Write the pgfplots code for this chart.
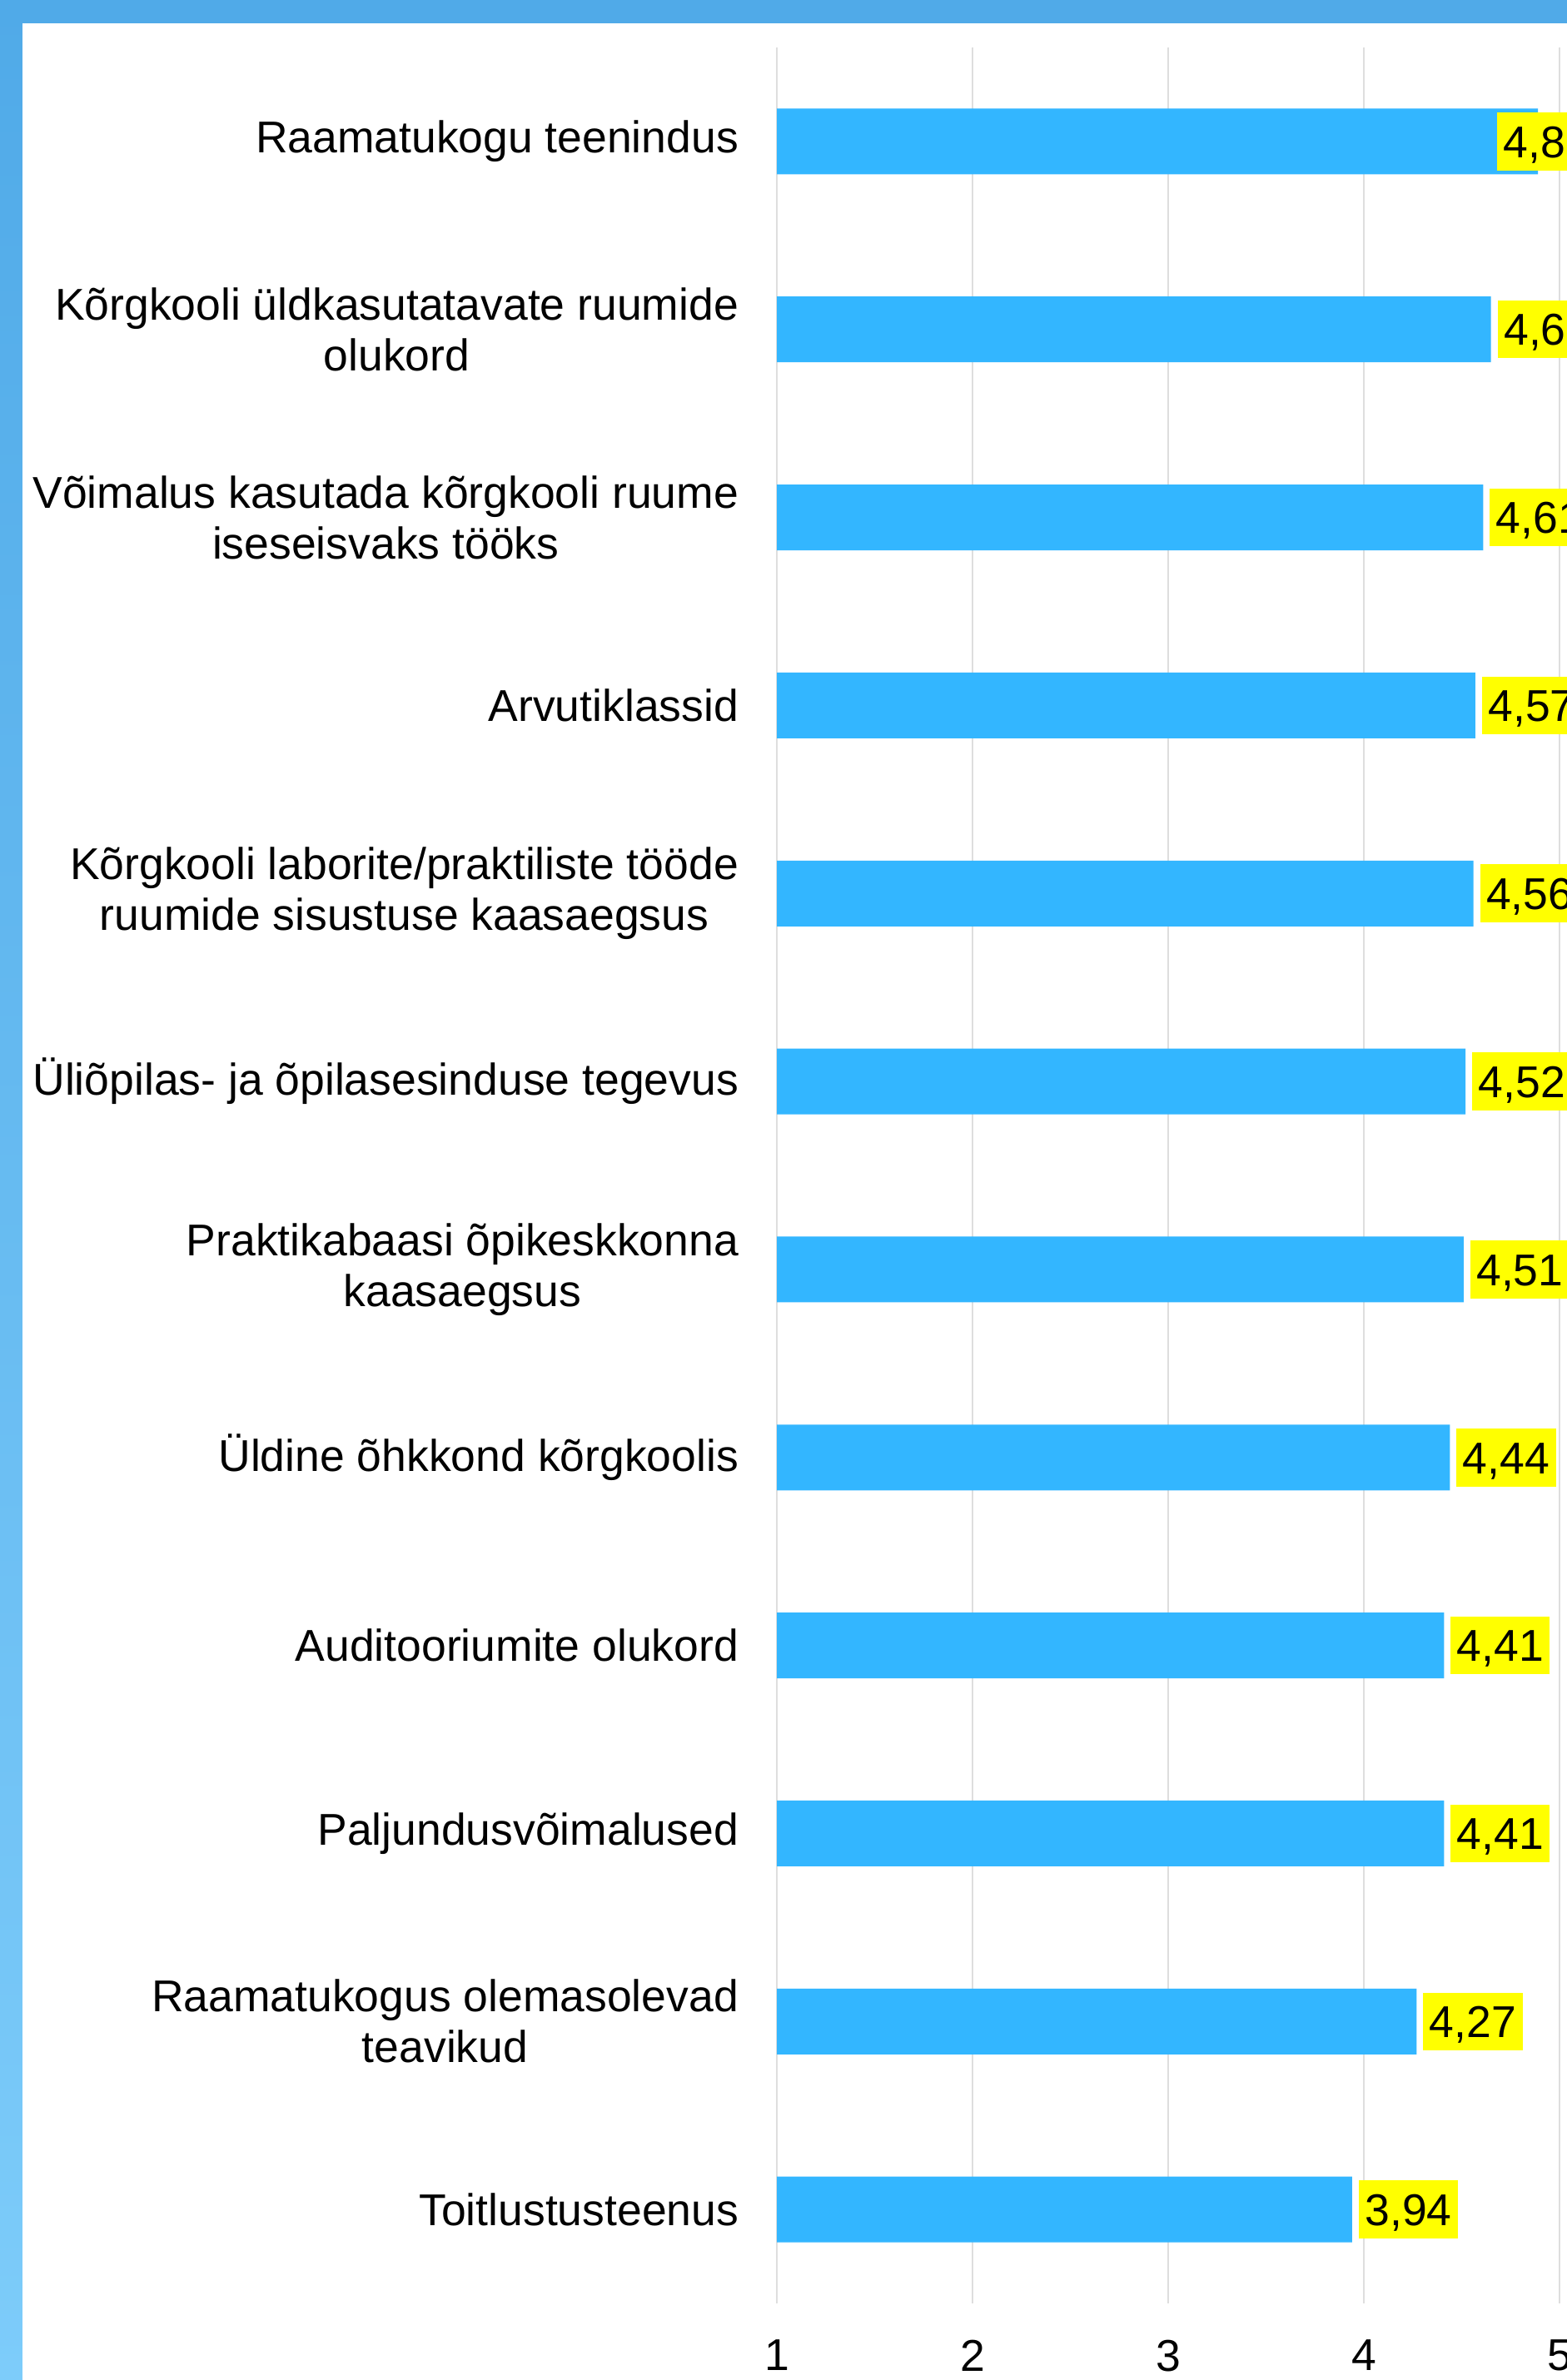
\documentclass[border=0pt]{standalone}
\usepackage{pgfplots}
\usepackage{pgfplotstable}
\pgfplotsset{compat=1.18}
\usepackage{fontspec}
\setmainfont{Liberation Sans}
\definecolor{barblue}{RGB}{51,182,255}
\definecolor{frametop}{RGB}{80,170,232}
\definecolor{framebot}{RGB}{125,204,250}
\definecolor{gridgray}{RGB}{222,222,222}
\definecolor{lblyellow}{RGB}{255,255,0}
\pgfplotstableread{
idx val
0 4.89
1 4.65
2 4.61
3 4.57
4 4.56
5 4.52
6 4.51
7 4.44
8 4.41
9 4.41
10 4.27
11 3.94
}\datatable
\begin{document}
\begin{tikzpicture}[font=\fontsize{10.7}{12.2}\selectfont]
\clip (0,0) rectangle (376.4pt,571.8pt);
\shade[top color=frametop, bottom color=framebot] (0,0) rectangle (376.4pt,571.8pt);
\fill[white] (5.4pt,-2pt) rectangle (380pt,566.2pt);
\pgfplotsset{common/.style={
  at={(186.6pt,18.4pt)}, anchor=south west, scale only axis,
  width=188pt, height=542pt,
  xmin=1, xmax=5, ymin=-0.5, ymax=11.5, y dir=reverse,
  /pgf/number format/assume math mode=true},
  lbl/.style={draw=none, mark=none, point meta=x,
  nodes near coords={\pgfmathprintnumber[fixed, fixed zerofill, precision=2, use comma, assume math mode=true]{\pgfplotspointmeta}},
  every node near coord/.append style={anchor=west, fill=lblyellow, text=black,
    inner xsep=1.5pt, inner ysep=3.1pt, text height=7.7pt, text depth=0pt}}}
\begin{axis}[common,
  xbar, bar width=15.8pt,
  axis line style={draw=none},
  major tick length=0pt,
  xtick={1,2,3,4,5},
  ytick={0,...,11},
  yticklabels={Raamatukogu teenindus,
    {Kõrgkooli üldkasutatavate ruumide\\olukord},
    {Võimalus kasutada kõrgkooli ruume\\iseseisvaks tööks},
    Arvutiklassid,
    {Kõrgkooli laborite/praktiliste tööde\\ruumide sisustuse kaasaegsus},
    Üliõpilas- ja õpilasesinduse tegevus,
    {Praktikabaasi õpikeskkonna\\kaasaegsus},
    Üldine õhkkond kõrgkoolis,
    Auditooriumite olukord,
    Paljundusvõimalused,
    {Raamatukogus olemasolevad\\teavikud},
    Toitlustusteenus},
  yticklabel style={align=center, inner sep=0pt, xshift=-9pt},
  xticklabel style={inner sep=0pt, yshift=-8.6pt},
  xmajorgrids, grid style={gridgray, line width=0.55pt},
]
\addplot[fill=barblue, draw=none] table[x=val, y=idx] {\datatable};
\end{axis}
\begin{axis}[common, hide axis, clip=false]
\addplot[lbl, restrict y to domain=0.5:11.5,
  every node near coord/.append style={xshift=1.4pt}]
  table[x=val, y=idx] {\datatable};
\addplot[lbl, restrict y to domain=-0.5:0.5,
  every node near coord/.append style={xshift=-10pt}]
  table[x=val, y=idx] {\datatable};
\end{axis}
\end{tikzpicture}
\end{document}
